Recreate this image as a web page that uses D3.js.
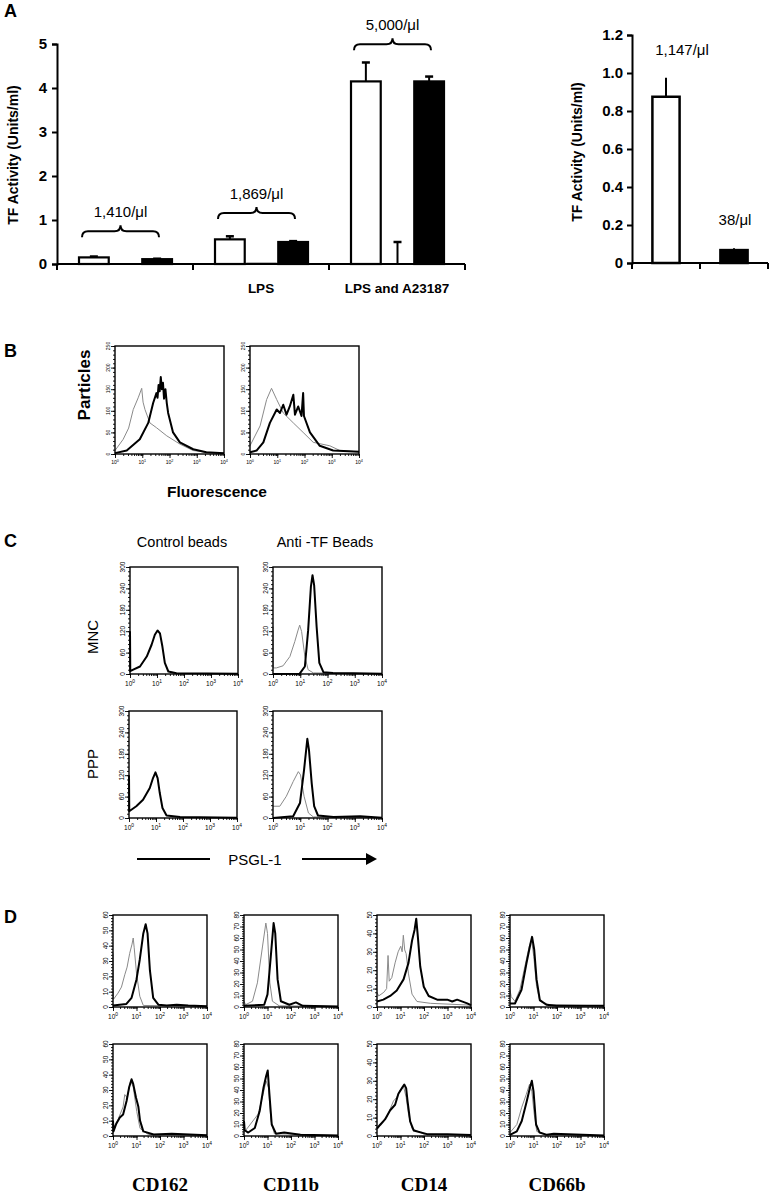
<!DOCTYPE html>
<meta charset="utf-8">
<script src="https://d3js.org/d3.v7.min.js"></script>
<style>
  body { margin: 0; background: #fff; }
  svg text { font-family: Arial, "Liberation Sans", sans-serif; fill: #000; }
</style>
<div id="fig"></div>
<script>
// ---------- Panel A, left: TF activity ----------
var groupLabelsA = ["", "LPS", "LPS and A23187"];
var openA = [0.15, 0.56, 4.15];
var openErrA = [0.02, 0.07, 0.43];
var midA = [0.01, 0.02, 0.01];
var midErrA = [0, 0, 0.49];
var filledA = [0.11, 0.50, 4.15];
var filledErrA = [0.01, 0.02, 0.11];
var countsA = ["1,410/\u03bcl", "1,869/\u03bcl", "5,000/\u03bcl"];
var braceA = [0.61, 1.02, 4.86];   // level (units/ml) where each brace sits

// ---------- Panel A, right ----------
var valuesR = [0.875, 0.068];
var errR = [0.10, 0.01];
var countsR = ["1,147/\u03bcl", "38/\u03bcl"];

// ---------- Flow histograms: [log10 fluorescence, count] ----------
var b1Gray = [[0,8],[0.3,34],[0.5,60],[0.67,103],[0.85,130],[0.98,152],[1.03,120],[1.1,103],[1.28,72],[1.52,61],[1.9,42],[2.38,23],[2.87,8],[3.35,4],[4,2]];
var b1Black = [[0,2],[0.43,8],[0.91,34],[1.22,72],[1.4,118],[1.52,141],[1.56,130],[1.6,160],[1.64,145],[1.68,178],[1.72,150],[1.76,165],[1.8,128],[1.85,150],[1.9,118],[1.95,95],[2.13,50],[2.38,27],[2.87,11],[3.35,4],[4,2]];
var b2Gray = [[0,19],[0.37,65],[0.61,126],[0.79,152],[0.98,126],[1.22,95],[1.59,72],[1.95,50],[2.32,27],[2.93,19],[3.3,8],[4,5]];
var b2Black = [[0,4],[0.24,8],[0.49,27],[0.73,72],[0.98,103],[1.1,95],[1.22,114],[1.34,91],[1.46,110],[1.59,137],[1.65,91],[1.77,110],[1.89,88],[1.95,141],[1.98,88],[2.2,50],[2.56,19],[3.05,8],[4,5]];

var c1Black = [[0,120],[0.01,8],[0.12,12],[0.37,21],[0.62,49],[0.8,82],[0.92,110],[1.02,122],[1.11,114],[1.2,77],[1.29,31],[1.42,7],[1.72,2],[4,1]];
var c2Gray = [[0,133],[0.01,17],[0.12,17],[0.37,23],[0.62,49],[0.8,91],[0.92,123],[0.98,137],[1.05,119],[1.17,49],[1.29,12],[1.48,3],[4,1]];
var c2Black = [[0,0],[0.98,1],[1.17,21],[1.29,123],[1.39,244],[1.45,277],[1.51,249],[1.6,133],[1.7,31],[1.85,5],[2.2,3],[2.95,2],[4,1]];
var c3Black = [[0,120],[0.01,19],[0.27,33],[0.52,51],[0.77,84],[0.89,112],[0.98,128],[1.06,112],[1.14,70],[1.24,28],[1.39,7],[1.89,3],[4,1]];
var c4Gray = [[0,33],[0.25,33],[0.49,61],[0.74,102],[0.93,130],[1.01,121],[1.14,61],[1.3,14],[1.48,3],[4,1]];
var c4Black = [[0,0],[0.74,5],[0.99,42],[1.14,135],[1.26,222],[1.32,191],[1.42,98],[1.51,33],[1.65,7],[2.22,3],[3.2,5],[4,1]];

var d1Gray = [[0,35],[0.02,5],[0.21,9],[0.36,13],[0.5,21],[0.6,26],[0.71,35],[0.81,41],[0.86,45],[0.9,39],[1.0,22],[1.14,7],[1.29,1],[4,0.5]];
var d1Black = [[0,1],[0.57,2],[0.79,6],[1.0,18],[1.14,31],[1.29,48],[1.39,54],[1.47,48],[1.57,24],[1.71,6],[1.93,1.5],[2.29,1],[2.71,1.5],[3.2,1],[4,0.5]];
var d2Gray = [[0,5],[0.07,2],[0.36,5],[0.57,21],[0.79,53],[0.93,73],[1.0,64],[1.1,21],[1.21,5],[1.5,1],[4,0.5]];
var d2Black = [[0,1],[0.86,2],[1.0,11],[1.14,44],[1.26,73],[1.33,64],[1.43,24],[1.57,5],[1.93,2],[2.21,4],[2.5,1],[4,0.5]];
var d3Gray = [[0,8],[0.07,6],[0.29,8],[0.41,10],[0.47,28],[0.52,14],[0.63,16],[0.77,24],[0.9,30],[1.01,33],[1.07,30],[1.12,39],[1.18,31],[1.24,29],[1.34,18],[1.49,7],[1.7,3],[2.27,2],[4,1]];
var d3Black = [[0,3],[0.27,4],[0.56,6],[0.84,9],[1.13,15],[1.34,24],[1.49,36],[1.6,42],[1.67,48],[1.74,38],[1.84,22],[1.99,11],[2.2,6],[2.56,4],[2.99,4],[3.2,3],[3.41,4],[3.84,2],[4,1]];
var d4Gray = [[0,15],[0.05,9],[0.21,5],[0.42,15],[0.63,35],[0.82,53],[0.92,58],[1.01,44],[1.13,18],[1.27,5],[1.69,2],[4,1]];
var d4Black = [[0,3],[0.21,3],[0.49,15],[0.7,38],[0.87,55],[0.94,61],[1.03,50],[1.13,24],[1.27,6],[1.55,2],[1.97,1],[4,1]];
var d5Gray = [[0,5],[0.22,11],[0.43,19],[0.5,27],[0.6,25],[0.75,36],[0.86,32],[1.01,16],[1.15,5],[1.5,1],[4,0.5]];
var d5Black = [[0,10],[0.02,3],[0.14,8],[0.29,12],[0.43,14],[0.58,23],[0.69,32],[0.79,37],[0.86,34],[0.98,25],[1.08,19],[1.15,10],[1.29,3],[1.73,1],[2.5,1.5],[4,0.5]];
var d6Gray = [[0,3],[0.6,19],[0.81,36],[0.94,48],[1.04,42],[1.15,13],[1.29,2],[4,0.5]];
var d6Black = [[0,13],[0.03,5],[0.18,3],[0.46,7],[0.67,22],[0.83,42],[0.94,52],[1.01,57],[1.08,37],[1.18,10],[1.36,2],[1.71,3],[2.4,1],[4,0.5]];
var d7Gray = [[0,5],[0.41,10],[0.7,19],[0.84,21],[0.99,25],[1.13,27],[1.24,21],[1.34,12],[1.49,4],[2,1],[4,0.5]];
var d7Black = [[0,4],[0.13,6],[0.34,9],[0.56,14],[0.77,17],[0.91,23],[1.06,26],[1.16,28],[1.24,26],[1.3,19],[1.41,8],[1.56,3],[2.13,1],[2.99,1],[4,0.5]];
var d8Gray = [[0,3],[0.29,10],[0.5,25],[0.69,36],[0.83,45],[0.93,39],[1.03,19],[1.14,4],[1.5,1],[4,0.5]];
var d8Black = [[0,1],[0.29,4],[0.5,13],[0.71,30],[0.86,43],[0.93,48],[1.0,39],[1.11,10],[1.26,3],[1.57,1],[1.86,2],[4,0.5]];

var markersD = ["CD162", "CD11b", "CD14", "CD66b"];
var yMaxD = [60, 80, 50, 80];

var svg = d3.select("#fig").append("svg")
    .attr("width", 774)
    .attr("height", 1200);

function label(x, y, txt, size, weight, rot, anchor, family) {
  var t = svg.append("text")
      .attr("transform", "translate(" + x + "," + y + ")" + (rot ? " rotate(" + rot + ")" : ""))
      .attr("text-anchor", anchor || "start")
      .style("font-size", size + "px")
      .style("font-weight", weight || "normal")
      .text(txt);
  if (family) t.style("font-family", family);
  return t;
}

// ================= Panel A left =================
var yA = d3.scaleLinear().domain([0, 5]).range([264, 44]);
var xA = d3.scaleBand().domain(d3.range(groupLabelsA.length)).range([57, 465]);
var subA = d3.scaleBand().domain(["open", "mid", "filled"]).range([22, 115]).paddingInner(0.06);

var seriesA = [
  { key: "open", vals: openA, err: openErrA, fill: "#fff" },
  { key: "mid", vals: midA, err: midErrA, fill: "#000" },
  { key: "filled", vals: filledA, err: filledErrA, fill: "#000" }
];

seriesA.forEach(function (s) {
  var bw = subA.bandwidth();
  svg.selectAll(null).data(s.vals).enter().append("rect")
      .attr("x", function (d, i) { return xA(i) + subA(s.key); })
      .attr("y", function (d) { return yA(d); })
      .attr("width", bw)
      .attr("height", function (d) { return yA(0) - yA(d); })
      .attr("fill", s.fill)
      .attr("stroke", "#000")
      .attr("stroke-width", s.key == "mid" ? 0.8 : 2.2);
  s.vals.forEach(function (v, i) {
    if (!s.err[i]) return;
    var cx = xA(i) + subA(s.key) + bw / 2;
    svg.append("line").attr("x1", cx).attr("x2", cx)
        .attr("y1", yA(v)).attr("y2", yA(v + s.err[i]))
        .attr("stroke", "#000").attr("stroke-width", 2);
    svg.append("line").attr("x1", cx - 4).attr("x2", cx + 4)
        .attr("y1", yA(v + s.err[i])).attr("y2", yA(v + s.err[i]))
        .attr("stroke", "#000").attr("stroke-width", 2.5);
  });
});

// braces and cell counts
braceA.forEach(function (lev, i) {
  var x1 = xA(i) + 25, x2 = xA(i) + 102, xm = (x1 + x2) / 2;
  var yb = yA(lev), h = 12, r = 6;
  var p = "M" + x1 + "," + yb + " Q" + x1 + "," + (yb - h / 2) + " " + (x1 + r) + "," + (yb - h / 2) +
      " L" + (xm - r) + "," + (yb - h / 2) + " Q" + xm + "," + (yb - h / 2) + " " + xm + "," + (yb - h) +
      " Q" + xm + "," + (yb - h / 2) + " " + (xm + r) + "," + (yb - h / 2) +
      " L" + (x2 - r) + "," + (yb - h / 2) + " Q" + x2 + "," + (yb - h / 2) + " " + x2 + "," + yb;
  svg.append("path").attr("d", p).attr("fill", "none").attr("stroke", "#000").attr("stroke-width", 2);
  label(xm, yb - h - 8, countsA[i], 15, "normal", 0, "middle");
});

var yAxA = svg.append("g").attr("transform", "translate(57,0)")
    .call(d3.axisLeft(yA).ticks(5).tickSize(5).tickPadding(5).tickFormat(d3.format("d")));
yAxA.selectAll("line, path").attr("stroke-width", 2);
yAxA.selectAll("text").style("font-size", "15px").style("font-weight", "bold").style("font-family", "Arial, 'Liberation Sans'");

svg.append("line").attr("x1", 57).attr("x2", 465).attr("y1", 264).attr("y2", 264)
    .attr("stroke", "#000").attr("stroke-width", 2);
d3.range(groupLabelsA.length + 1).forEach(function (i) {
  var xx = i < groupLabelsA.length ? xA(i) : xA.range()[1];
  svg.append("line").attr("x1", xx).attr("x2", xx).attr("y1", 264).attr("y2", 270)
      .attr("stroke", "#000").attr("stroke-width", 2);
});
groupLabelsA.forEach(function (g, i) {
  label(xA(i) + xA.bandwidth() / 2 + (i == 2 ? 0 : 0), 293, g, 13.5, "bold", 0, "middle");
});
label(18, 155, "TF Activity (Units/ml)", 14, "bold", -90, "middle");
label(4, 17, "A", 18, "bold");

// ================= Panel A right =================
var yR = d3.scaleLinear().domain([0, 1.2]).range([263, 35]);
var xR = d3.scaleBand().domain(d3.range(valuesR.length)).range([632, 768]).paddingInner(0.6).paddingOuter(0.3);
var fillR = ["#fff", "#000"];

svg.selectAll(null).data(valuesR).enter().append("rect")
    .attr("x", function (d, i) { return xR(i); })
    .attr("y", function (d) { return yR(d); })
    .attr("width", xR.bandwidth())
    .attr("height", function (d) { return yR(0) - yR(d); })
    .attr("fill", function (d, i) { return fillR[i]; })
    .attr("stroke", "#000").attr("stroke-width", 2.5);
valuesR.forEach(function (v, i) {
  var cx = xR(i) + xR.bandwidth() / 2;
  svg.append("line").attr("x1", cx).attr("x2", cx).attr("y1", yR(v)).attr("y2", yR(v + errR[i]))
      .attr("stroke", "#000").attr("stroke-width", 2);
  label(cx + (i == 0 ? 16 : 1), yR(v + errR[i]) - 23, countsR[i], 15, "normal", 0, "middle");
});
var yAxR = svg.append("g").attr("transform", "translate(632,0)")
    .call(d3.axisLeft(yR).tickValues(d3.range(0, 1.21, 0.2)).tickSize(5).tickPadding(4)
      .tickFormat(function (d) { return d < 0.01 ? "0" : d3.format(".1f")(d); }));
yAxR.selectAll("line, path").attr("stroke-width", 2);
yAxR.selectAll("text").style("font-size", "15px").style("font-weight", "bold").style("font-family", "Arial, 'Liberation Sans'");
svg.append("line").attr("x1", 632).attr("x2", 768).attr("y1", 263).attr("y2", 263)
    .attr("stroke", "#000").attr("stroke-width", 2);
[632, 700, 768].forEach(function (xx) {
  svg.append("line").attr("x1", xx).attr("x2", xx).attr("y1", 263).attr("y2", 269)
      .attr("stroke", "#000").attr("stroke-width", 2);
});
label(582, 152, "TF Activity (Units/ml)", 14, "bold", -90, "middle");

// ================= flow histogram helper =================
function flowPlot(bx, by, bw, bh, yMax, yStep, yMinor, gray, black, fs) {
  var x = d3.scaleLog().domain([1, 10000]).range([bx, bx + bw]);
  var y = d3.scaleLinear().domain([0, yMax]).range([by + bh, by]);
  var g = svg.append("g");
  function strip(sel) { sel.select(".domain").remove(); sel.selectAll("line").attr("stroke-width", 0.9); }

  g.append("g").attr("transform", "translate(0," + (by + bh) + ")")
      .call(d3.axisBottom(x).tickValues(x.ticks()).tickSize(2).tickFormat("")).call(strip);
  g.append("g").attr("transform", "translate(0," + (by + bh) + ")")
      .call(d3.axisBottom(x).tickValues([1, 10, 100, 1000, 10000]).tickSize(4).tickFormat("")).call(strip);
  g.append("g").attr("transform", "translate(" + bx + ",0)")
      .call(d3.axisLeft(y).tickValues(d3.range(0, yMax + 0.001, yMinor)).tickSize(2).tickFormat("")).call(strip);
  g.append("g").attr("transform", "translate(" + bx + ",0)")
      .call(d3.axisLeft(y).tickValues(d3.range(0, yMax + 0.001, yStep)).tickSize(4).tickFormat("")).call(strip);

  [0, 1, 2, 3, 4].forEach(function (k) {
    var t = g.append("text").attr("x", x(Math.pow(10, k))).attr("y", by + bh + fs + 5)
        .attr("text-anchor", "middle").style("font-size", fs + "px").text("10");
    t.append("tspan").attr("dy", -fs * 0.45).style("font-size", (fs * 0.75) + "px").text(k);
  });
  d3.range(0, yMax + 0.001, yStep).forEach(function (v) {
    g.append("text").attr("transform", "translate(" + (bx - 5) + "," + y(v) + ") rotate(-90)")
        .attr("text-anchor", "middle").style("font-size", fs + "px").text(v);
  });

  var line = d3.line()
      .x(function (d) { return x(Math.pow(10, d[0])); })
      .y(function (d) { return y(d[1]); });
  if (gray) g.append("path").datum(gray).attr("d", line).attr("fill", "none")
      .attr("stroke", "#8a8a8a").attr("stroke-width", 1).attr("stroke-linejoin", "round");
  if (black) g.append("path").datum(black).attr("d", line).attr("fill", "none")
      .attr("stroke", "#000").attr("stroke-width", 2).attr("stroke-linejoin", "round");

  g.append("rect").attr("x", bx).attr("y", by).attr("width", bw).attr("height", bh)
      .attr("fill", "none").attr("stroke", "#000").attr("stroke-width", 1.4);
}

// ================= Panel B =================
label(4, 357, "B", 18, "bold");
flowPlot(115, 346, 109, 108, 250, 50, 10, b1Gray, b1Black, 5);
flowPlot(250, 346, 109, 108, 250, 50, 10, b2Gray, b2Black, 5);
label(90, 385, "Particles", 17, "bold", -90, "middle");
label(217, 497, "Fluorescence", 15.5, "bold", 0, "middle");

// ================= Panel C =================
label(4, 547, "C", 18, "bold");
label(182, 547, "Control beads", 14.5, "normal", 0, "middle");
label(325, 547, "Anti -TF Beads", 14.5, "normal", 0, "middle");
flowPlot(130, 567, 108, 107, 300, 60, 12, null, c1Black, 6.5);
flowPlot(273, 567, 109, 107, 300, 60, 12, c2Gray, c2Black, 6.5);
flowPlot(129, 711, 108, 107, 300, 60, 12, null, c3Black, 6.5);
flowPlot(273, 711, 109, 107, 300, 60, 12, c4Gray, c4Black, 6.5);
label(98, 637, "MNC", 15, "normal", -90, "middle");
label(98, 764, "PPP", 15, "normal", -90, "middle");

// PSGL-1 arrow
label(255, 865, "PSGL-1", 15, "normal", 0, "middle");
svg.append("line").attr("x1", 137).attr("x2", 210).attr("y1", 859).attr("y2", 859)
    .attr("stroke", "#000").attr("stroke-width", 1.8);
svg.append("line").attr("x1", 302).attr("x2", 368).attr("y1", 859).attr("y2", 859)
    .attr("stroke", "#000").attr("stroke-width", 1.8);
svg.append("path").attr("d", "M366,853 L377,859 L366,865 Z").attr("fill", "#000");

// ================= Panel D =================
label(4, 923, "D", 18, "bold");
var xD = [113, 244, 377, 510];
var rowsD = [
  [[d1Gray, d1Black], [d2Gray, d2Black], [d3Gray, d3Black], [d4Gray, d4Black]],
  [[d5Gray, d5Black], [d6Gray, d6Black], [d7Gray, d7Black], [d8Gray, d8Black]]
];
var yD = [915, 1044];
rowsD.forEach(function (row, r) {
  row.forEach(function (c, j) {
    flowPlot(xD[j], yD[r], 94, 92, yMaxD[j], 10, 2, c[0], c[1], 6.5);
  });
});
markersD.forEach(function (m, j) {
  label(xD[j] + 47, 1191, m, 19, "bold", 0, "middle", "'Times New Roman', 'Liberation Serif', serif");
});
</script>
